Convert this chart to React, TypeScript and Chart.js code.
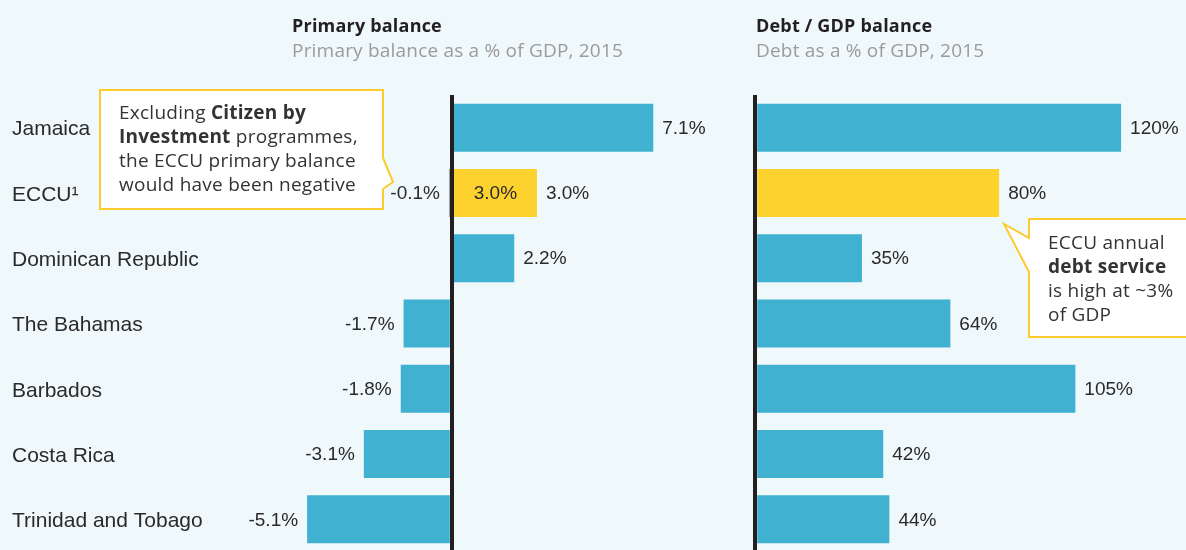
import React, { useEffect, useRef } from "react";
import { Chart, registerables } from "chart.js";

Chart.register(...registerables);

// ---------- data ----------
const categories = [
  "Jamaica",
  "ECCU¹",
  "Dominican Republic",
  "The Bahamas",
  "Barbados",
  "Costa Rica",
  "Trinidad and Tobago",
];
const primaryBalance = [7.1, -0.1, 2.2, -1.7, -1.8, -3.1, -5.1];
const eccuExCbi = [null, 3.0, null, null, null, null, null];
const debtToGdp = [120, 80, 35, 64, 105, 42, 44];
const highlightIndex = 1;
const leftRange = [-7.5, 8.5];
const rightRange = [-5, 139];

// ---------- styles ----------
const BLUE = "#40B1D1";
const YELLOW = "#FDD12E";
const SLIVER = "#8f8f8f";
const TEXT = "#2a2a2a";
const AXIS = "#231f20";
const BG = "#EFF8FB";
const BORDER = "#FDCB2E";
const LABEL_FONT = '"Liberation Sans", Arial, sans-serif';
const UI_FONT = '"Open Sans", Lato, sans-serif';

const valueLabels = {
  id: "valueLabels",
  afterDatasetsDraw(chart: any, _args: any, opts: any) {
    const ctx = chart.ctx;
    ctx.save();
    ctx.font = `${opts.size}px ${LABEL_FONT}`;
    ctx.fillStyle = TEXT;
    ctx.textBaseline = "middle";
    chart.data.datasets.forEach((ds: any, di: number) => {
      const meta = chart.getDatasetMeta(di);
      meta.data.forEach((el: any, i: number) => {
        const v = ds.data[i];
        if (v === null || v === undefined) return;
        const txt = v.toFixed(opts.decimals) + "%";
        if (v >= 0) {
          ctx.textAlign = "left";
          ctx.fillText(txt, el.x + 9, el.y + 1);
        } else {
          ctx.textAlign = "right";
          ctx.fillText(txt, el.x - 9, el.y + 1);
        }
        if (opts.inner === di) {
          ctx.textAlign = "center";
          ctx.fillText(txt, (el.x + el.base) / 2, el.y + 1);
        }
      });
    });
    ctx.restore();
  },
};

const zeroGrid = (step: number, min: number, max: number) => ({
  stacked: true,
  min,
  max,
  ticks: { display: false, stepSize: step },
  grid: {
    drawTicks: false,
    lineWidth: 4,
    z: 1,
    color: (c: any) =>
      c.tick && Math.abs(c.tick.value) < 1e-9 ? AXIS : "rgba(0,0,0,0)",
  },
  border: { display: false },
});

export default function App() {
  const leftRef = useRef<HTMLCanvasElement>(null);
  const rightRef = useRef<HTMLCanvasElement>(null);

  useEffect(() => {
    document.body.style.margin = "0";
    const left = new Chart(leftRef.current as HTMLCanvasElement, {
      type: "bar",
      data: {
        labels: categories,
        datasets: [
          {
            data: primaryBalance,
            backgroundColor: primaryBalance.map((_, i) =>
              i === highlightIndex ? SLIVER : BLUE
            ),
            borderWidth: 0,
            barPercentage: 0.735,
            categoryPercentage: 1,
          },
          {
            data: eccuExCbi as any,
            backgroundColor: YELLOW,
            borderWidth: 0,
            barPercentage: 0.735,
            categoryPercentage: 1,
          },
        ],
      },
      options: {
        indexAxis: "y",
        responsive: false,
        animation: false,
        layout: { padding: { left: 12, right: 47, top: 95, bottom: 0 } },
        plugins: {
          legend: { display: false },
          tooltip: { enabled: false },
          valueLabels: { size: 19, decimals: 1, inner: 1 },
        } as any,
        scales: {
          x: zeroGrid(0.5, leftRange[0], leftRange[1]) as any,
          y: {
            stacked: true,
            afterFit: (s: any) => {
              s.width = 227;
              s.paddingTop = 0;
              s.paddingBottom = 0;
            },
            grid: { display: false },
            border: { display: false },
            ticks: {
              crossAlign: "far",
              color: TEXT,
              padding: 0,
              labelOffset: 2,
              font: { family: LABEL_FONT, size: 21 },
            },
          },
        },
      },
      plugins: [valueLabels],
    });

    const right = new Chart(rightRef.current as HTMLCanvasElement, {
      type: "bar",
      data: {
        labels: categories,
        datasets: [
          {
            data: debtToGdp,
            backgroundColor: debtToGdp.map((_, i) =>
              i === highlightIndex ? YELLOW : BLUE
            ),
            borderWidth: 0,
            barPercentage: 0.735,
            categoryPercentage: 1,
          },
        ],
      },
      options: {
        indexAxis: "y",
        responsive: false,
        animation: false,
        layout: { padding: { left: 0, right: 7, top: 95, bottom: 0 } },
        plugins: {
          legend: { display: false },
          tooltip: { enabled: false },
          valueLabels: { size: 19, decimals: 0, inner: -1 },
        } as any,
        scales: {
          x: zeroGrid(1, rightRange[0], rightRange[1]) as any,
          y: { stacked: true, display: false },
        },
      },
      plugins: [valueLabels],
    });

    return () => {
      left.destroy();
      right.destroy();
    };
  }, []);

  const title = (x: number, y: number): React.CSSProperties => ({
    position: "absolute",
    left: x,
    top: y,
    fontFamily: UI_FONT,
    fontSize: 18,
    lineHeight: "24px",
    fontWeight: 700,
    letterSpacing: "0.2px",
    color: AXIS,
    whiteSpace: "nowrap",
  });
  const sub = (x: number, y: number): React.CSSProperties => ({
    ...title(x, y),
    fontSize: 19,
    fontWeight: 400,
    letterSpacing: "0.2px",
    color: "#9b9b9b",
  });
  const callText = (x: number, y: number): React.CSSProperties => ({
    position: "absolute",
    left: x,
    top: y,
    fontFamily: UI_FONT,
    fontSize: 19,
    lineHeight: "24px",
    letterSpacing: "0.25px",
    color: "#333",
    whiteSpace: "nowrap",
  });

  return (
    <div
      style={{
        position: "fixed",
        left: 0,
        top: 0,
        width: 1186,
        height: 550,
        overflow: "hidden",
        background: BG,
      }}
    >
      <canvas
        ref={leftRef}
        width={740}
        height={552}
        style={{ position: "absolute", left: 0, top: 0 }}
      />
      <canvas
        ref={rightRef}
        width={446}
        height={552}
        style={{ position: "absolute", left: 740, top: 0 }}
      />
      <div style={title(292, 13)}>Primary balance</div>
      <div style={sub(292, 38)}>Primary balance as a % of GDP, 2015</div>
      <div style={title(756, 13)}>Debt / GDP balance</div>
      <div style={sub(756, 38)}>Debt as a % of GDP, 2015</div>
      <svg
        width={1186}
        height={550}
        style={{ position: "absolute", left: 0, top: 0 }}
      >
        <path
          d="M100,90 H383 V158 L393,182 L383,189 V209 H100 Z"
          fill="#fff"
          stroke={BORDER}
          strokeWidth={2}
        />
        <path
          d="M1029,219 H1195 V337 H1029 V272 L1004,224 L1029,238 Z"
          fill="#fff"
          stroke={BORDER}
          strokeWidth={2}
        />
      </svg>
      <div style={callText(119, 100)}>
        Excluding <b>Citizen by</b>
        <br />
        <b>Investment</b> programmes,
        <br />
        the ECCU primary balance
        <br />
        would have been negative
      </div>
      <div style={callText(1048, 230)}>
        ECCU annual
        <br />
        <b>debt service</b>
        <br />
        is high at ~3%
        <br />
        of GDP
      </div>
    </div>
  );
}
